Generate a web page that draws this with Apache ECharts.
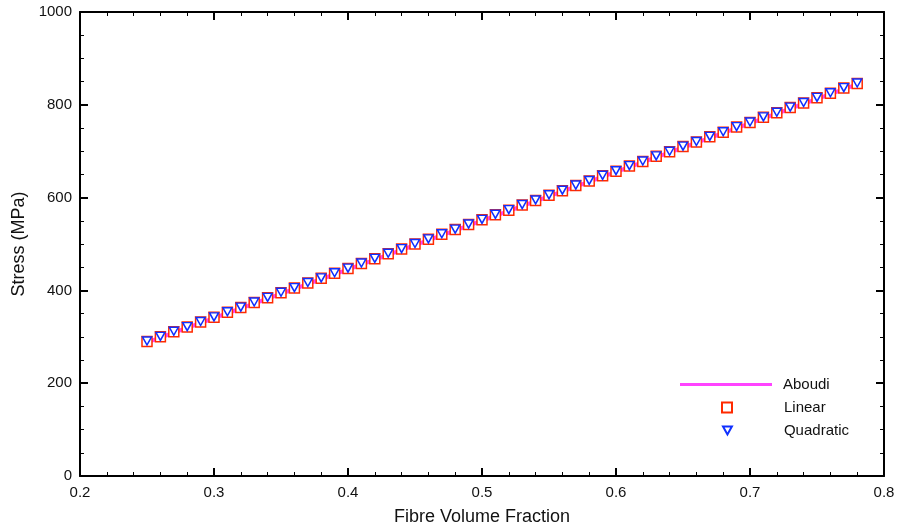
<!DOCTYPE html>
<html><head><meta charset="utf-8">
<script src="https://cdn.jsdelivr.net/npm/echarts@6/dist/echarts.min.js"></script>
<style>html,body{margin:0;padding:0;background:#fff}#c{width:900px;height:529px}</style>
</head><body><div id="c"></div>
<script>
var fraction = [0.25,0.26,0.27,0.28,0.29,0.30,0.31,0.32,0.33,0.34,0.35,0.36,0.37,0.38,0.39,0.40,0.41,0.42,0.43,0.44,0.45,0.46,0.47,0.48,0.49,0.50,0.51,0.52,0.53,0.54,0.55,0.56,0.57,0.58,0.59,0.60,0.61,0.62,0.63,0.64,0.65,0.66,0.67,0.68,0.69,0.70,0.71,0.72,0.73,0.74,0.75,0.76,0.77,0.78];
var aboudi = [288,298,309,319,330,340,351,361,372,382,393,403,414,424,435,445,456,466,477,487,498,508,519,529,540,550,561,571,582,592,603,613,624,634,645,655,666,676,687,697,708,718,729,739,750,760,771,781,792,802,813,823,834,844];
var linear = [290,300,311,321,332,342,353,363,374,384,395,405,416,426,437,447,458,468,479,489,500,510,521,531,542,552,563,573,584,594,605,615,626,636,647,657,668,678,689,699,710,720,731,741,752,762,773,783,794,804,815,825,836,846];
var quadratic = [291,301,312,322,333,343,354,364,375,385,396,406,417,427,438,448,459,469,480,490,501,511,522,532,543,553,564,574,585,595,606,616,627,637,648,658,669,679,690,700,711,721,732,742,753,763,774,784,795,805,816,826,837,847];
var xTicks = [0.2,0.3,0.4,0.5,0.6,0.7,0.8];
var yTicks = [0,200,400,600,800,1000];

function pairs(v){ return fraction.map(function(x,i){ return [x, v[i]]; }); }
var font = '"Liberation Sans", Arial, Helvetica, sans-serif';
var triPath = 'path://M0,0 L10,0 L5,9 Z';
var axisBase = {
  axisLine:{show:true,onZero:false,lineStyle:{color:'#000',width:2}},
  axisTick:{show:true,inside:true,length:8,lineStyle:{color:'#000',width:2}},
  splitLine:{show:false}
};
function ax(extra){ var o = JSON.parse(JSON.stringify(axisBase)); for (var k in extra) o[k]=extra[k]; return o; }
var legText = {color:'#111',fontSize:15,fontFamily:font};

var chart = echarts.init(document.getElementById('c'));
chart.setOption({
  animation:false,
  backgroundColor:'#fff',
  grid:{left:80,right:16,top:12,bottom:53,containLabel:false,outerBoundsMode:'none'},
  xAxis:[
    ax({type:'value',min:xTicks[0],max:xTicks[xTicks.length-1],interval:0.1,position:'bottom',
      minorTick:{show:true,splitNumber:5,length:4,lineStyle:{color:'#000',width:1}},
      axisLabel:{color:'#111',fontSize:15,fontFamily:font,margin:9,formatter:function(v){return String(Math.round(v*10)/10);}},
      name:'Fibre Volume Fraction',nameLocation:'middle',nameGap:32,nameTextStyle:{color:'#111',fontSize:18,fontFamily:font}}),
    ax({type:'value',min:xTicks[0],max:xTicks[xTicks.length-1],interval:0.1,position:'top',
      minorTick:{show:true,splitNumber:5,length:4,lineStyle:{color:'#000',width:1}},
      axisLabel:{show:false}})
  ],
  yAxis:[
    ax({type:'value',min:yTicks[0],max:yTicks[yTicks.length-1],interval:200,position:'left',
      minorTick:{show:true,splitNumber:4,length:4,lineStyle:{color:'#000',width:1}},
      axisLabel:{color:'#111',fontSize:15,fontFamily:font,margin:8,formatter:function(v){return String(v);}},
      name:'Stress (MPa)',nameLocation:'middle',nameGap:40,nameRotate:90,nameTextStyle:{color:'#111',fontSize:18,fontFamily:font}}),
    ax({type:'value',min:yTicks[0],max:yTicks[yTicks.length-1],interval:200,position:'right',
      minorTick:{show:true,splitNumber:4,length:4,lineStyle:{color:'#000',width:1}},
      axisLabel:{show:false}})
  ],
  legend:[
    {left:680,top:377,padding:0,itemWidth:92,itemHeight:3,icon:'rect',
      textStyle:Object.assign({padding:[0,0,0,6]},legText),data:['Aboudi']},
    {left:721,top:400,padding:0,itemWidth:10,itemHeight:10,icon:'rect',
      textStyle:Object.assign({padding:[0,0,0,47]},legText),data:['Linear']},
    {left:722,top:423,padding:0,itemWidth:9,itemHeight:8,icon:triPath,
      textStyle:Object.assign({padding:[0,0,0,47]},legText),data:['Quadratic']}
  ],
  series:[
    {name:'Aboudi',type:'line',data:pairs(aboudi),showSymbol:false,symbol:'none',
      lineStyle:{color:'#ff44ff',width:4},itemStyle:{color:'#ff44ff'},z:1},
    {name:'Linear',type:'scatter',data:pairs(linear),symbol:'rect',symbolSize:[10,10],
      itemStyle:{color:'#fff',borderColor:'#ff2a00',borderWidth:1.5,opacity:1},z:2},
    {name:'Quadratic',type:'scatter',data:pairs(quadratic),symbol:triPath,symbolSize:[9,8],
      itemStyle:{color:'#fff',borderColor:'#1030ff',borderWidth:1.5,opacity:1},z:3}
  ]
});
</script></body></html>
